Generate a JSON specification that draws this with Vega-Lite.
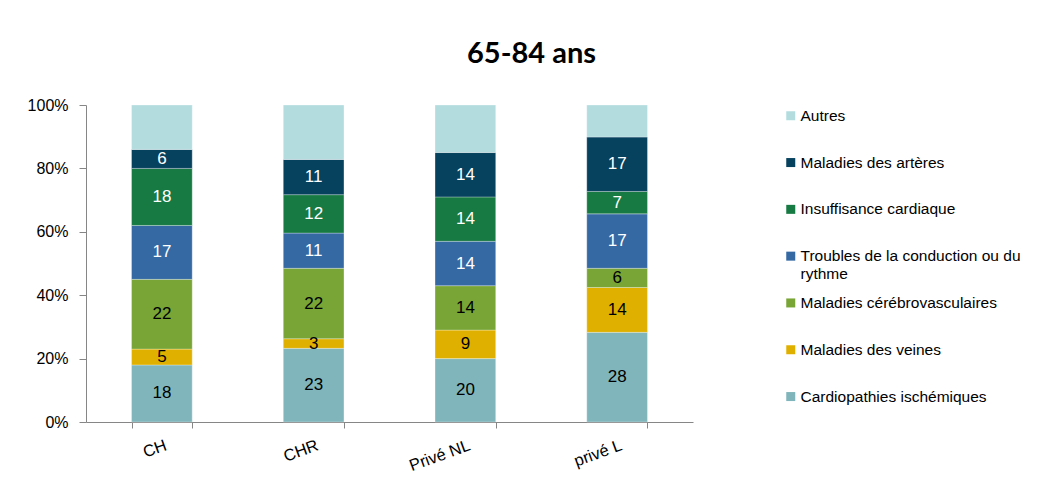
{
  "$schema": "https://vega.github.io/schema/vega-lite/v6.json",
  "width": 607,
  "height": 317,
  "autosize": {"type": "none"},
  "padding": {"left": 86, "top": 105, "right": 345, "bottom": 61},
  "background": "white",
  "config": {"view": {"stroke": null}},
  "title": {
    "text": "65-84 ans",
    "font": "Lato",
    "fontSize": 29,
    "fontWeight": "bold",
    "color": "#000000",
    "anchor": "middle",
    "dx": 142,
    "offset": 28
  },
  "data": {
    "values": [
      {"etab": "CH", "cause": "Cardiopathies ischémiques", "ordre": 1, "valeur": 18},
      {"etab": "CH", "cause": "Maladies des veines", "ordre": 2, "valeur": 5},
      {"etab": "CH", "cause": "Maladies cérébrovasculaires", "ordre": 3, "valeur": 22},
      {"etab": "CH", "cause": "Troubles de la conduction ou du rythme", "ordre": 4, "valeur": 17},
      {"etab": "CH", "cause": "Insuffisance cardiaque", "ordre": 5, "valeur": 18},
      {"etab": "CH", "cause": "Maladies des artères", "ordre": 6, "valeur": 6},
      {"etab": "CH", "cause": "Autres", "ordre": 7, "valeur": 14},
      {"etab": "CHR", "cause": "Cardiopathies ischémiques", "ordre": 1, "valeur": 23},
      {"etab": "CHR", "cause": "Maladies des veines", "ordre": 2, "valeur": 3},
      {"etab": "CHR", "cause": "Maladies cérébrovasculaires", "ordre": 3, "valeur": 22},
      {"etab": "CHR", "cause": "Troubles de la conduction ou du rythme", "ordre": 4, "valeur": 11},
      {"etab": "CHR", "cause": "Insuffisance cardiaque", "ordre": 5, "valeur": 12},
      {"etab": "CHR", "cause": "Maladies des artères", "ordre": 6, "valeur": 11},
      {"etab": "CHR", "cause": "Autres", "ordre": 7, "valeur": 17},
      {"etab": "Privé NL", "cause": "Cardiopathies ischémiques", "ordre": 1, "valeur": 20},
      {"etab": "Privé NL", "cause": "Maladies des veines", "ordre": 2, "valeur": 9},
      {"etab": "Privé NL", "cause": "Maladies cérébrovasculaires", "ordre": 3, "valeur": 14},
      {"etab": "Privé NL", "cause": "Troubles de la conduction ou du rythme", "ordre": 4, "valeur": 14},
      {"etab": "Privé NL", "cause": "Insuffisance cardiaque", "ordre": 5, "valeur": 14},
      {"etab": "Privé NL", "cause": "Maladies des artères", "ordre": 6, "valeur": 14},
      {"etab": "Privé NL", "cause": "Autres", "ordre": 7, "valeur": 15},
      {"etab": "privé L", "cause": "Cardiopathies ischémiques", "ordre": 1, "valeur": 28},
      {"etab": "privé L", "cause": "Maladies des veines", "ordre": 2, "valeur": 14},
      {"etab": "privé L", "cause": "Maladies cérébrovasculaires", "ordre": 3, "valeur": 6},
      {"etab": "privé L", "cause": "Troubles de la conduction ou du rythme", "ordre": 4, "valeur": 17},
      {"etab": "privé L", "cause": "Insuffisance cardiaque", "ordre": 5, "valeur": 7},
      {"etab": "privé L", "cause": "Maladies des artères", "ordre": 6, "valeur": 17},
      {"etab": "privé L", "cause": "Autres", "ordre": 7, "valeur": 10}
    ]
  },
  "encoding": {
    "x": {
      "field": "etab",
      "type": "nominal",
      "sort": ["CH", "CHR", "Privé NL", "privé L"],
      "scale": {"paddingInner": 0.6, "paddingOuter": 0.3},
      "axis": {
        "title": null,
        "labelAngle": -20,
        "labelAlign": "right",
        "labelBaseline": "top",
        "labelFont": "Liberation Sans",
        "labelFontSize": 16.5,
        "labelColor": "#000000",
        "labelPadding": 9,
        "labelOffset": 1,
        "tickBand": "extent",
        "tickSize": 6,
        "tickColor": "#868686",
        "domainColor": "#868686",
        "grid": false
      }
    }
  },
  "layer": [
    {
      "mark": {"type": "bar", "stroke": "#ffffff", "strokeWidth": 0.6, "strokeOpacity": 0.5},
      "encoding": {
        "y": {
          "field": "valeur",
          "type": "quantitative",
          "aggregate": "sum",
          "stack": "normalize",
          "scale": {"domain": [0, 1], "nice": false},
          "axis": {
            "title": null,
            "format": "%",
            "values": [0, 0.2, 0.4, 0.6, 0.8, 1],
            "grid": false,
            "labelFont": "Liberation Sans",
            "labelFontSize": 16,
            "labelColor": "#000000",
            "labelPadding": 11,
            "tickSize": 7,
            "tickColor": "#868686",
            "domainColor": "#868686"
          }
        },
        "color": {
          "field": "cause",
          "type": "nominal",
          "scale": {
            "domain": [
              "Autres",
              "Maladies des artères",
              "Insuffisance cardiaque",
              "Troubles de la conduction ou du rythme",
              "Maladies cérébrovasculaires",
              "Maladies des veines",
              "Cardiopathies ischémiques"
            ],
            "range": ["#b3dcdf", "#06415e", "#177a43", "#3569a4", "#78a535", "#e0b000", "#80b6bb"]
          },
          "legend": {
            "orient": "none",
            "legendX": 697,
            "legendY": 3,
            "title": null,
            "symbolType": "square",
            "symbolSize": 81,
            "symbolStrokeWidth": 0,
            "labelFont": "Liberation Sans",
            "labelFontSize": 15.5,
            "labelColor": "#000000",
            "labelLimit": 400,
            "labelOffset": 2,
            "gridAlign": "all",
            "rowPadding": 12.8,
            "labelExpr": "datum.label == 'Troubles de la conduction ou du rythme' ? ['Troubles de la conduction ou du', 'rythme'] : datum.label"
          }
        },
        "order": {"field": "ordre", "type": "quantitative", "sort": "ascending"}
      }
    },
    {
      "mark": {"type": "text", "font": "Liberation Sans", "fontSize": 17, "baseline": "middle"},
      "encoding": {
        "y": {
          "field": "valeur",
          "type": "quantitative",
          "aggregate": "sum",
          "stack": "normalize",
          "bandPosition": 0.5
        },
        "detail": {"field": "cause", "type": "nominal"},
        "order": {"field": "ordre", "type": "quantitative", "sort": "ascending"},
        "text": {
          "condition": {"test": "datum.cause == 'Autres'", "value": ""},
          "field": "valeur",
          "type": "quantitative",
          "aggregate": "sum"
        },
        "color": {
          "condition": {
            "test": "datum.cause == 'Maladies des artères' || datum.cause == 'Insuffisance cardiaque' || datum.cause == 'Troubles de la conduction ou du rythme'",
            "value": "#ffffff"
          },
          "value": "#000000"
        }
      }
    }
  ]
}
